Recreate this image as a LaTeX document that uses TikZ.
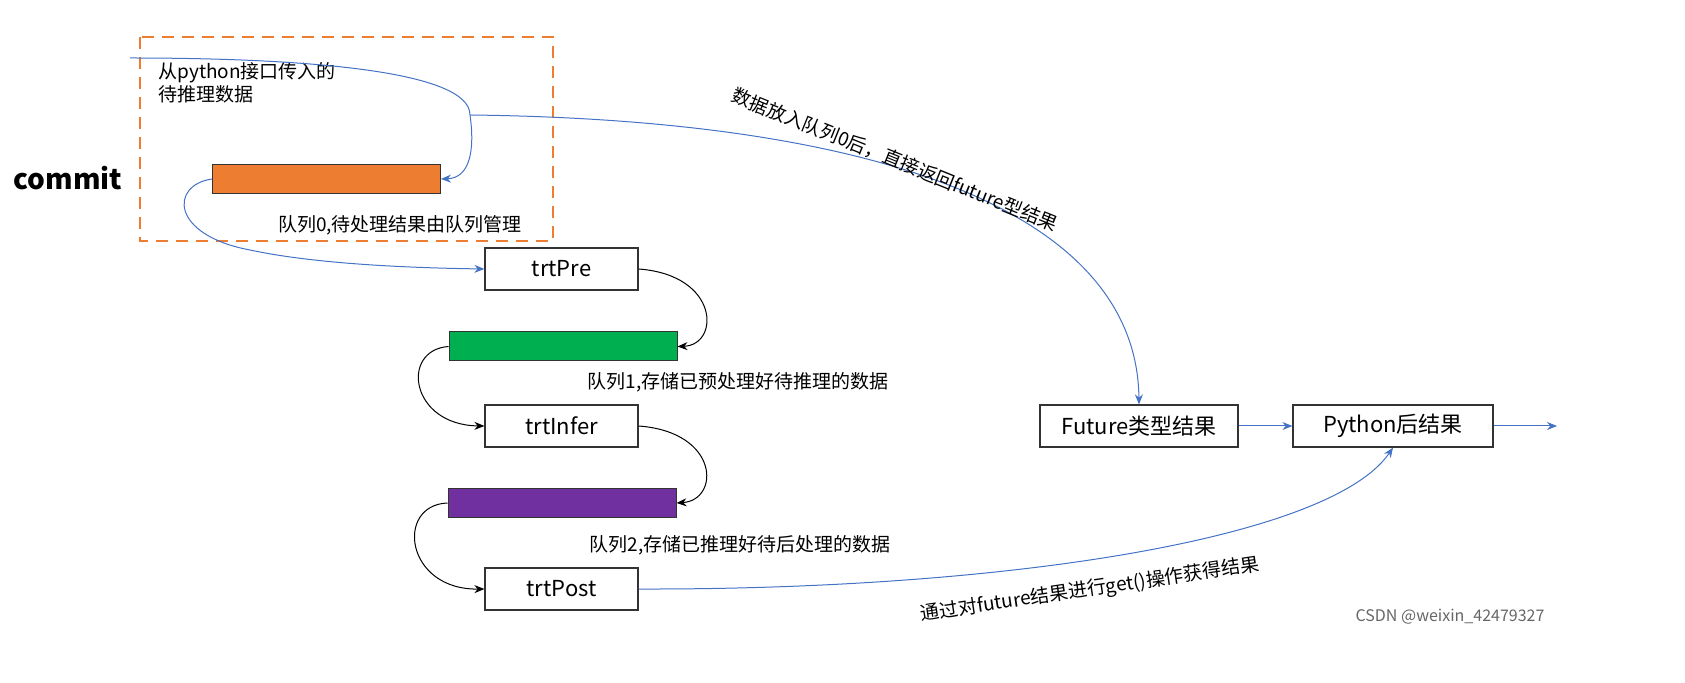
\documentclass[tikz,border=0pt]{standalone}
\usepackage{fontspec}
\setmainfont{Noto Sans CJK SC}
\usetikzlibrary{arrows.meta}
\definecolor{qorange}{RGB}{237,125,49}
\definecolor{qgreen}{RGB}{0,176,80}
\definecolor{qpurple}{RGB}{112,48,160}
\definecolor{qblue}{RGB}{68,114,196}
\tikzset{
  stage/.style={draw=black!80,line width=0.6pt,minimum width=76.5pt,minimum height=21pt,inner sep=0pt,font=\fontsize{11}{13}\selectfont},
  queue/.style={draw=black!80,line width=0.5pt,minimum width=114pt,minimum height=14.5pt,inner sep=0pt},
  note/.style={font=\fontsize{9.5}{11.5}\selectfont,inner sep=0pt},
  bluearr/.style={qblue,line width=0.5pt,-{Stealth[length=5pt,width=4pt]}},
  blackarr/.style={black,line width=0.5pt,-{Stealth[length=5pt,width=4pt]}}
}
\begin{document}
\begin{tikzpicture}[x=0.5pt,y=-0.5pt]
\useasboundingbox (0,0) rectangle (1685,683);

%Shape: dashed commit frame
\draw [qorange,line width=1.2pt,dash pattern=on 6pt off 4pt] (140,37) rectangle (553,241);
\node [font=\bfseries\fontsize{14}{16}\selectfont,inner sep=0pt] (commit) at (68,178) {commit};
\node [note,align=left,anchor=north west] (input) at (158,62) {从python接口传入的\\待推理数据};

%Queues
\node [queue,fill=qorange] (q0) at (326.5,179) {};
\node [queue,fill=qgreen] (q1) at (563,346.5) {};
\node [queue,fill=qpurple] (q2) at (562,503) {};
\node [note] (q0t) at (400,225) {队列0,待处理结果由队列管理};
\node [note] (q1t) at (738,382) {队列1,存储已预处理好待推理的数据};
\node [note] (q2t) at (740,545) {队列2,存储已推理好待后处理的数据};

%Stages
\node [stage] (pre) at (561.5,269) {trtPre};
\node [stage] (infer) at (561.5,426) {trtInfer};
\node [stage] (post) at (561.5,589) {trtPost};
\node [stage,minimum width=99pt] (future) at (1139,426) {Future类型结果};
\node [stage,minimum width=100pt] (py) at (1393,426) {Python后结果};
\coordinate (start) at (130,58);
\coordinate (split) at (470,115);
\coordinate (out) at (1557,426);

%Connectors
\draw [qblue,line width=0.5pt] (start) .. controls (300,58) and (470,70) .. (split);
\draw [bluearr] (split) .. controls (475,150) and (470,178) .. (q0.east);
\draw [bluearr] (split) .. controls (900,120) and (1137,220) .. (future.north);
\draw [bluearr] (q0.west) .. controls (170,185) and (170,235) .. (250,250) .. controls (320,265) and (420,268) .. (pre.west);
\draw [blackarr] (pre.east) .. controls (720,275) and (720,345) .. (q1.east);
\draw [blackarr] (q1.west) .. controls (400,350) and (410,425) .. (infer.west);
\draw [blackarr] (infer.east) .. controls (720,432) and (720,500) .. (q2.east);
\draw [blackarr] (q2.west) .. controls (395,505) and (405,590) .. (post.west);
\draw [bluearr] (post.east) .. controls (1000,590) and (1330,540) .. (py.south);
\draw [bluearr] (future) -- (py);
\draw [bluearr] (py) -- (out);

%Curve labels
\node [note,rotate=-22] (retlabel) at (895,160) {数据放入队列0后，直接返回future型结果};
\node [note,rotate=8.5] (getlabel) at (1090,590) {通过对future结果进行get()操作获得结果};
\node [font=\fontsize{8}{10}\selectfont,text=black!60,inner sep=0pt] (mark) at (1450,617) {CSDN @weixin\_42479327};
\end{tikzpicture}
\end{document}
